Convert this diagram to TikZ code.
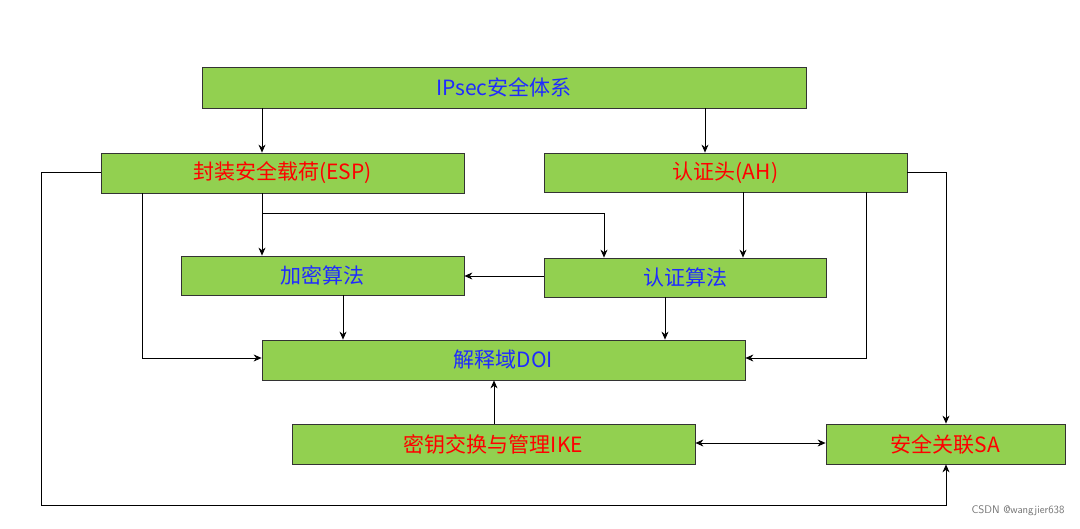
\documentclass[tikz,border=0pt]{standalone}
\usepackage{fontspec}
\newfontfamily\cjk{Noto Sans CJK SC}
\usetikzlibrary{arrows.meta}
\definecolor{boxg}{HTML}{92D050}
\definecolor{tb}{HTML}{1F2BFF}
\definecolor{tr}{HTML}{FF0000}
\begin{document}
\begin{tikzpicture}[x=1pt,y=-1pt,
  box/.style={draw=black!80,fill=boxg,line width=0.8pt,inner sep=0pt,font=\cjk\fontsize{21}{21}\selectfont},
  arr/.style={-{Stealth[length=8pt,width=7pt]},line width=0.7pt},
  ln/.style={line width=0.7pt}]
\useasboundingbox (0,0) rectangle (1080,529);
\fill[white] (0,0) rectangle (1080,529);
\newcommand\bx[6]{\node[box,text=#6,minimum width=#4-#2,minimum height=#5-#3] (#1) at ({(#2+#4)/2},{(#3+#5)/2}) {};}
\bx{ips}{202}{67}{806}{108}{tb}
\bx{esp}{101}{153}{464}{193}{tr}
\bx{ah}{544}{153}{907}{192}{tr}
\bx{jm}{181}{256}{464}{295}{tb}
\bx{rz}{544}{258}{826}{297}{tb}
\bx{doi}{262}{340}{745}{380}{tb}
\bx{ike}{292}{424}{695}{464}{tr}
\bx{sa}{826}{424}{1065}{464}{tr}
\node[font=\cjk\fontsize{21}{21}\selectfont,text=tb] at (ips) {IPsec安全体系};
\node[font=\cjk\fontsize{21}{21}\selectfont,text=tr] at (esp) {封装安全载荷(ESP)};
\node[font=\cjk\fontsize{21}{21}\selectfont,text=tr] at (ah) {认证头(AH)};
\node[font=\cjk\fontsize{21}{21}\selectfont,text=tb] at (jm) {加密算法};
\node[font=\cjk\fontsize{21}{21}\selectfont,text=tb] at (rz) {认证算法};
\node[font=\cjk\fontsize{21}{21}\selectfont,text=tb] at (doi) {解释域DOI};
\node[font=\cjk\fontsize{21}{21}\selectfont,text=tr] at (ike) {密钥交换与管理IKE};
\node[font=\cjk\fontsize{21}{21}\selectfont,text=tr] at (sa) {安全关联SA};
\coordinate (c1) at (604,213);
\coordinate (c2) at (142,358);
\coordinate (c3) at (866,358);
\coordinate (c4) at (946,172);
\coordinate (c5) at (41,172);
\coordinate (c6) at (41,505);
\coordinate (c7) at (946,505);
\draw[arr] (ips.south -| 262,0) -- (esp.north -| 262,0);
\draw[arr] (ips.south -| 705,0) -- (ah.north -| 705,0);
\draw[arr] (esp.south -| 262,0) -- (jm.north -| 262,0);
\draw[arr] (262,213) -- (c1) -- (rz.north -| c1);
\draw[arr] (ah.south -| 743,0) -- (rz.north -| 743,0);
\draw[arr] (rz.west |- 0,276) -- (jm.east |- 0,276);
\draw[arr] (jm.south -| 343,0) -- (doi.north -| 343,0);
\draw[arr] (rz.south -| 665,0) -- (doi.north -| 665,0);
\draw[arr] (esp.south -| c2) -- (c2) -- (doi.west |- c2);
\draw[arr] (ah.south -| c3) -- (c3) -- (doi.east |- c3);
\draw[arr] (ike.north -| 494,0) -- (doi.south -| 494,0);
\draw[arr,{Stealth[length=8pt,width=7pt]}-{Stealth[length=8pt,width=7pt]}] (ike.east |- 0,443) -- (sa.west |- 0,443);
\draw[arr] (ah.east |- c4) -- (c4) -- (sa.north -| c4);
\draw[arr] (esp.west |- c5) -- (c5) -- (c6) -- (c7) -- (sa.south -| c7);
\node[font=\sffamily\fontsize{11}{11}\selectfont,text=black!55,anchor=east] (wm) at (1068,511) {CSDN @wangjier638};
\end{tikzpicture}
\end{document}
